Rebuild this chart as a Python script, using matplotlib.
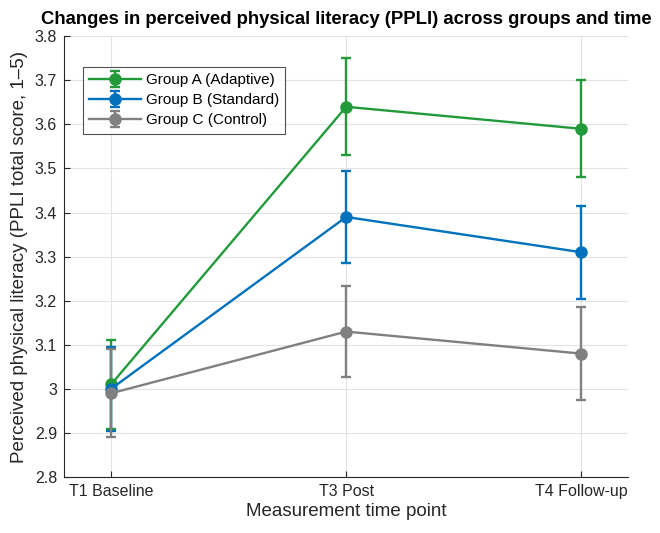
import numpy as np
import matplotlib.pyplot as plt

plt.rcParams['font.family'] = ['Liberation Sans', 'DejaVu Sans']

time_points = ['T1 Baseline', 'T3 Post', 'T4 Follow-up']
group_names = ['Group A (Adaptive)', 'Group B (Standard)', 'Group C (Control)']

mean_a = [3.01, 3.64, 3.59]
mean_b = [3.00, 3.39, 3.31]
mean_c = [2.99, 3.13, 3.08]

err_a = [0.10, 0.11, 0.11]
err_b = [0.095, 0.105, 0.105]
err_c = [0.10, 0.104, 0.105]

y_ticks = [2.8, 2.9, 3.0, 3.1, 3.2, 3.3, 3.4, 3.5, 3.6, 3.7, 3.8]
y_tick_labels = ['2.8', '2.9', '3', '3.1', '3.2', '3.3', '3.4', '3.5', '3.6', '3.7', '3.8']

colors = ['#229a3a', '#0072bd', '#808080']

fig = plt.figure(figsize=(6.6, 5.33), dpi=100)
ax = fig.add_axes([0.097, 0.105, 0.855, 0.827])

x = np.arange(1, len(time_points) + 1)
for means, errs, col, name in zip([mean_a, mean_b, mean_c], [err_a, err_b, err_c], colors, group_names):
    ax.errorbar(x, means, yerr=errs, color=col, linewidth=1.7, marker='o', markersize=8,
                capsize=3.6, capthick=1.7, elinewidth=1.7, label=name)

ax.set_xlim(0.8, 3.2)
ax.set_ylim(2.8, 3.8)
ax.set_xticks(x)
ax.set_xticklabels(time_points, fontsize=11.5)
ax.set_yticks(y_ticks)
ax.set_yticklabels(y_tick_labels, fontsize=11.5)
ax.tick_params(direction='in', length=4, color='#262626', labelcolor='#262626', pad=5)

ax.grid(True, color='#e3e3e3', linewidth=0.8)
ax.set_axisbelow(True)
ax.spines['top'].set_visible(False)
ax.spines['right'].set_visible(False)
ax.spines['left'].set_color('#262626')
ax.spines['bottom'].set_color('#262626')

ax.set_xlabel('Measurement time point', fontsize=13.5, color='#262626', labelpad=3)
ax.set_ylabel('Perceived physical literacy (PPLI total score, 1\u20135)', fontsize=13.5,
              color='#262626', labelpad=5)
ax.set_title('Changes in perceived physical literacy (PPLI) across groups and time',
             fontsize=13.3, fontweight='bold', pad=9)

leg = ax.legend(loc='upper left', bbox_to_anchor=(0.034, 0.93), fontsize=11, frameon=True,
                fancybox=False, edgecolor='#262626', borderaxespad=0, handlelength=3.4,
                labelspacing=0.4, handletextpad=0.3, borderpad=0.4)
leg.get_frame().set_linewidth(0.8)

plt.savefig('out.png')
plt.close()
